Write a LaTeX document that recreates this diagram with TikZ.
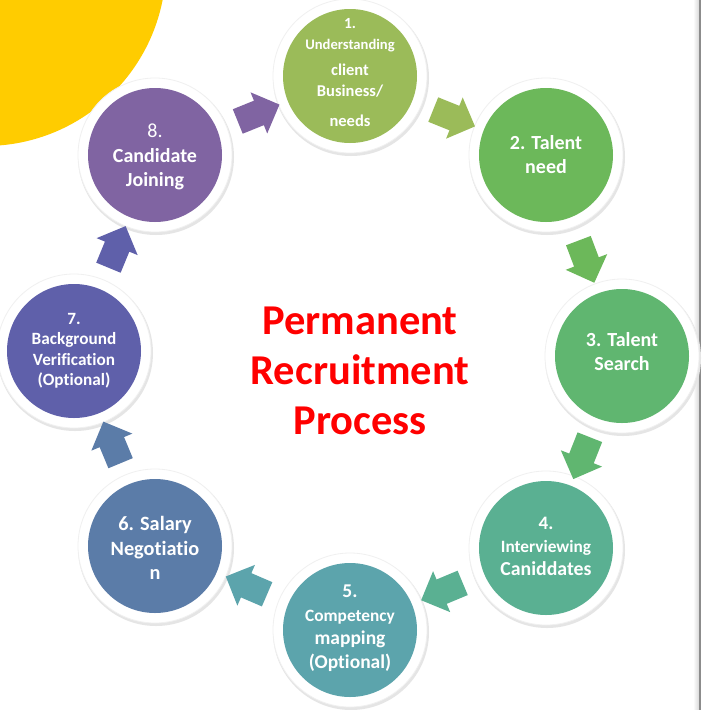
\documentclass[tikz,border=0pt]{standalone}
\usepackage{fontspec}
\setmainfont{Carlito}[Ligatures=NoCommon]
\usetikzlibrary{shapes.arrows}
\definecolor{yel}{RGB}{255,204,0}
\definecolor{cA}{RGB}{155,187,89}
\definecolor{cB}{RGB}{108,184,90}
\definecolor{cC}{RGB}{96,182,112}
\definecolor{cD}{RGB}{90,176,146}
\definecolor{cE}{RGB}{92,164,172}
\definecolor{cF}{RGB}{91,124,168}
\definecolor{cG}{RGB}{95,96,170}
\definecolor{cH}{RGB}{128,100,162}
\definecolor{title}{RGB}{255,0,0}
\begin{document}
\begin{tikzpicture}[x=1pt,y=-1pt,
  shad/.style={fill=black!10},
  ring/.style={circle, fill=white, draw=black!6, line width=0.8pt, minimum size=154pt, inner sep=0pt},
  disc/.style={circle, fill=#1, minimum size=134pt, inner sep=0pt},
  lbl/.style={text=white, align=center, inner sep=0pt},
  blk/.style={single arrow, fill=#1, draw=none, minimum height=45pt, inner xsep=0pt, inner ysep=13pt,
    single arrow head extend=9pt, sloped, allow upside down}
]
\useasboundingbox (0,0) rectangle (702,710);
\clip (0,0) rectangle (702,710);
\fill[white] (0,0) rectangle (702,710);
\fill[yel] (-15,-35) circle[radius=181pt];
% right edge
\shade[left color=white, right color=black!15] (693,0) rectangle (699,710);
\draw[black!45, line width=1.5pt] (700,0) -- (700,710);

% centres
\coordinate (p1) at (350,76);
\coordinate (p2) at (546,155);
\coordinate (p3) at (622,356);
\coordinate (p4) at (546,548);
\coordinate (p5) at (350,630);
\coordinate (p6) at (155,546);
\coordinate (p7) at (74,351);
\coordinate (p8) at (155,155);

\foreach \i in {1,...,8}{
  \fill[shad] ([shift={(1pt,-2pt)}]p\i) circle[radius=78pt];
  \node[ring] (r\i) at (p\i) {};
}
\node[disc=cA] (c1) at (p1) {};
\node[disc=cB] (c2) at (p2) {};
\node[disc=cC] (c3) at (p3) {};
\node[disc=cD] (c4) at (p4) {};
\node[disc=cE] (c5) at (p5) {};
\node[disc=cF] (c6) at (p6) {};
\node[disc=cG] (c7) at (p7) {};
\node[disc=cH] (c8) at (p8) {};

% labels
\node[lbl, font=\bfseries\fontsize{16.5}{21}\selectfont] (t1) at (350,73)
  {{\fontsize{15.5}{21}\selectfont 1.}\\{\fontsize{14.6}{21}\selectfont Understanding}\\[5pt]client\\Business/\\[9pt]needs};
\node[lbl, font=\bfseries\fontsize{20}{24}\selectfont] (t2) at (546,155) {2. Talent\\need};
\node[lbl, font=\bfseries\fontsize{20}{24}\selectfont] (t3) at (622,352) {3. Talent\\Search};
\node[lbl, font=\bfseries\fontsize{19}{23}\selectfont] (t4) at (546,546)
  {4.\\{\fontsize{17.3}{23}\selectfont Interviewing}\\{\fontsize{19.8}{23}\selectfont Caniddates}};
\node[lbl, font=\bfseries\fontsize{19.5}{23.5}\selectfont] (t5) at (350,628)
  {5.\\{\fontsize{17.3}{23.5}\selectfont Competency}\\mapping\\(Optional)};
\node[lbl, font=\bfseries\fontsize{20.3}{24.5}\selectfont] (t6) at (155,548) {6. Salary\\Negotiatio\\n};
\node[lbl, font=\bfseries\fontsize{17.2}{20.5}\selectfont] (t7) at (74,351) {7.\\Background\\Verification\\(Optional)};
\node[lbl, font=\fontsize{20}{24.5}\selectfont] (t8) at (155,157)
  {8.\\\textbf{Candidate}\\\textbf{Joining}};

% title
\node[text=title, align=center, inner sep=0pt, font=\bfseries\fontsize{42.5}{50}\selectfont] (ttl) at (360,371)
  {Permanent\\Recruitment\\Process};

% arrows
\path (c1) -- (c2) node[midway, blk=cA] (a12) {};
\path (c2) -- (c3) node[midway, blk=cB] (a23) {};
\path (c3) -- (c4) node[midway, blk=cC] (a34) {};
\path (c4) -- (c5) node[midway, blk=cD] (a45) {};
\path (c5) -- (c6) node[midway, blk=cE] (a56) {};
\path (c6) -- (c7) node[midway, blk=cF] (a67) {};
\path (c7) -- (c8) node[midway, blk=cG] (a78) {};
\path (c8) -- (c1) node[midway, blk=cH] (a81) {};
\end{tikzpicture}
\end{document}
